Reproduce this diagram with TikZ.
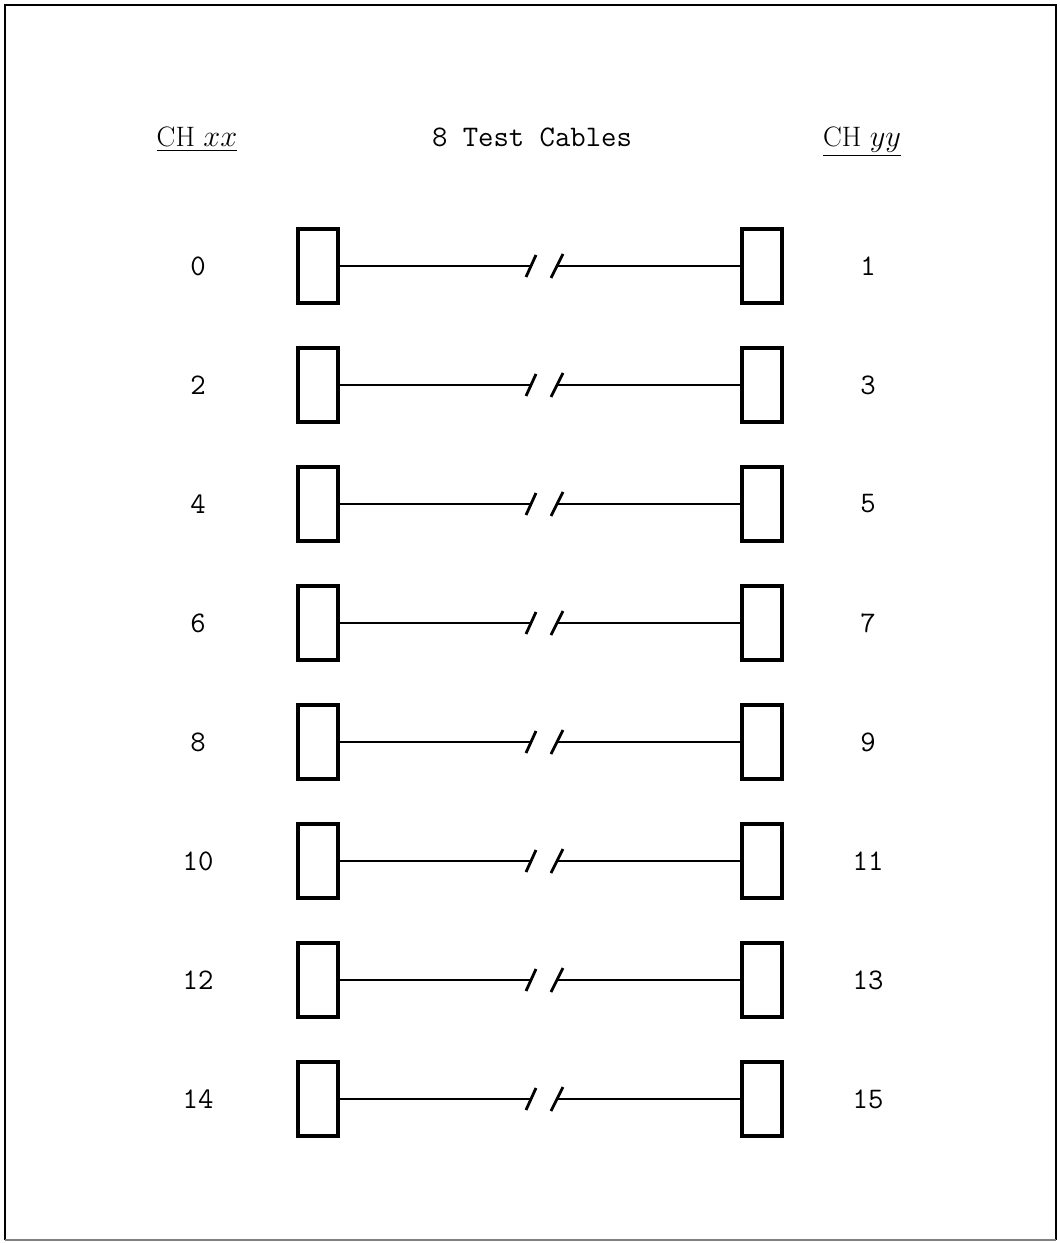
\documentclass[tikz,border=0pt]{standalone}
\usepackage{fontspec}
\tikzset{
  plug/.style={draw,line width=2pt,minimum width=0.8cm,minimum height=1.48cm,inner sep=0pt},
  cable/.style={line width=1.6pt},
  chnum/.style={font=\ttfamily\fontsize{17}{17}\selectfont},
  colhead/.style={font=\fontsize{16}{16}\selectfont,anchor=base,inner sep=1pt},
}
\begin{document}
\begin{tikzpicture}[x=0.02cm,y=-0.02cm]
\useasboundingbox (0,0) rectangle (1059,1243);
% frame
\draw[line width=1.6pt] (5,1240) -- (5,5) -- (1056,5) -- (1056,1240);
\draw[line width=1pt,gray] (5,1240) -- (1056,1240);
% column heads
\node[colhead] (hxx) at (197,147) {\underline{CH $xx$}};
\node[chnum,anchor=base] (title) at (532,147) {8 Test Cables};
\node[colhead] (hyy) at (862,147) {\underline{CH $yy$}};
% cables
\foreach \i in {0,...,7}{
  \pgfmathsetmacro\yc{266+119*\i}
  \pgfmathtruncatemacro\lnum{2*\i}
  \pgfmathtruncatemacro\rnum{2*\i+1}
  \node[chnum] (xx\i) at (198,\yc) {\lnum};
  \node[plug] (lp\i) at (318,\yc) {};
  \node[plug] (rp\i) at (762,\yc) {};
  \node[chnum] (yy\i) at (868,\yc) {\rnum};
  \coordinate (bl\i) at (531,\yc);
  \coordinate (br\i) at (557,\yc);
  \draw[cable] (lp\i) -- (bl\i);
  \draw[cable] (br\i) -- (rp\i);
  \draw[cable] (bl\i) ++(-5,11) -- ++(10,-22);
  \draw[cable] (br\i) ++(-6,12) -- ++(12,-24);
}
\end{tikzpicture}
\end{document}
